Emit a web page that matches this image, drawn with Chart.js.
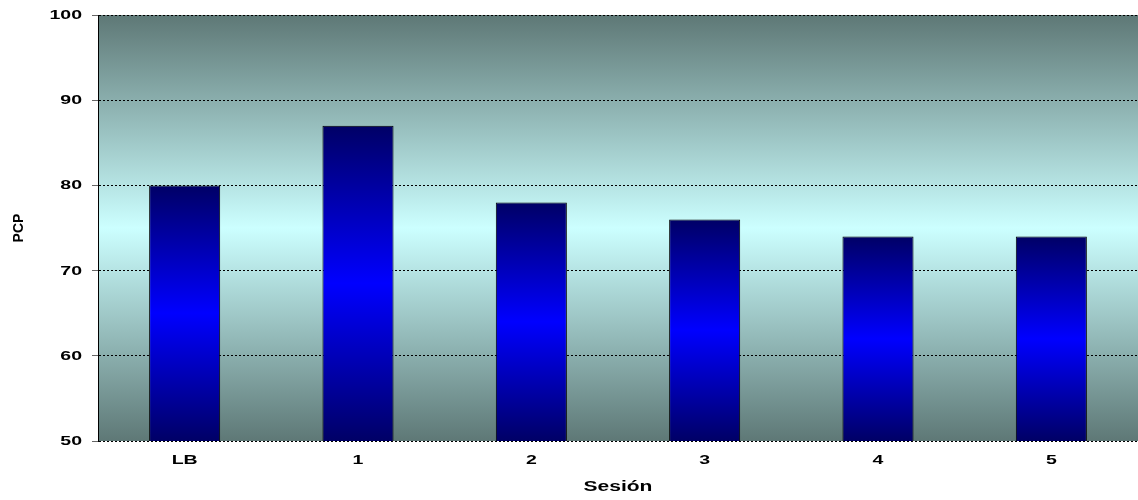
<!DOCTYPE html>
<html>
<head>
<meta charset="utf-8">
<script src="https://cdn.jsdelivr.net/npm/chart.js@4/dist/chart.umd.min.js"></script>
<style>
  html, body { margin: 0; padding: 0; background: #ffffff; }
  #wrap { width: 1138px; height: 500px; }
</style>
</head>
<body>
<div id="wrap"><canvas id="c" width="1138" height="500"></canvas></div>
<script>
const categories = ['LB', '1', '2', '3', '4', '5'];
const pcpValues = [80, 87, 78, 76, 74, 74];
const yTicks = [50, 60, 70, 80, 90, 100];
const xTitle = 'Sesión';
const yTitle = 'PCP';

const FONT = "'Liberation Sans', Arial, sans-serif";
const STRETCH = 1.5; // labels are set in a wide, horizontally stretched face

// Plot area fill: dark slate at top and bottom, pale cyan through the middle
const plotBackground = {
  id: 'plotBackground',
  beforeDraw(chart) {
    const { ctx, chartArea: a } = chart;
    const g = ctx.createLinearGradient(0, a.top, 0, a.bottom);
    g.addColorStop(0, '#5e7876');
    g.addColorStop(0.5, '#ccffff');
    g.addColorStop(1, '#5e7876');
    ctx.save();
    ctx.fillStyle = g;
    ctx.fillRect(a.left, a.top, a.right - a.left, a.bottom - a.top);
    ctx.restore();
  }
};

// Draw a string stretched horizontally around its anchor
function wideText(ctx, text, x, y, size, align) {
  ctx.save();
  ctx.translate(x, y);
  ctx.scale(STRETCH, 1);
  ctx.font = 'bold ' + size + 'px ' + FONT;
  ctx.fillStyle = '#000000';
  ctx.textAlign = align;
  ctx.textBaseline = 'middle';
  ctx.fillText(text, 0, 0);
  ctx.restore();
}

// Axis labels drawn from the scales' own ticks and pixel positions
const wideLabels = {
  id: 'wideLabels',
  afterDraw(chart) {
    const { ctx, chartArea: a, scales } = chart;
    const y = scales.y, x = scales.x;
    y.ticks.forEach(t => {
      wideText(ctx, String(t.value), a.left - 16, y.getPixelForValue(t.value) + 0.5, 13, 'right');
    });
    x.ticks.forEach(t => {
      wideText(ctx, x.getLabelForValue(t.value), x.getPixelForValue(t.value), a.bottom + 19, 13, 'center');
    });
    wideText(ctx, xTitle, (a.left + a.right) / 2, a.bottom + 46, 14, 'center');
  }
};

// Each bar: navy at both ends, bright blue in its centre
function barFill(context) {
  const chart = context.chart;
  const y = chart.scales && chart.scales.y;
  if (!y || context.raw == null) return '#0000cc';
  const top = y.getPixelForValue(context.raw);
  const bottom = y.getPixelForValue(y.min);
  if (!isFinite(top) || !isFinite(bottom) || top === bottom) return '#0000cc';
  const g = chart.ctx.createLinearGradient(0, top, 0, bottom);
  g.addColorStop(0, '#000066');
  g.addColorStop(0.5, '#0000ff');
  g.addColorStop(1, '#000066');
  return g;
}

new Chart(document.getElementById('c'), {
  type: 'bar',
  data: {
    labels: categories,
    datasets: [{
      label: yTitle,
      data: pcpValues,
      backgroundColor: barFill,
      borderColor: '#000000',
      borderWidth: 1,
      borderSkipped: false,
      categoryPercentage: 1,
      barPercentage: 0.41
    }]
  },
  plugins: [plotBackground, wideLabels],
  options: {
    responsive: false,
    animation: false,
    layout: { padding: { top: 15, right: 0, left: 0, bottom: 0 } },
    plugins: {
      legend: { display: false },
      tooltip: { enabled: false }
    },
    scales: {
      x: {
        grid: { display: false, drawTicks: false },
        border: { display: false },
        ticks: {
          color: 'rgba(0,0,0,0)',
          padding: 13,
          font: { family: FONT, size: 2 }
        },
        afterFit(scale) { scale.height = 59; }
      },
      y: {
        min: 50,
        max: 100,
        afterBuildTicks(scale) {
          scale.ticks = yTicks.map(v => ({ value: v }));
        },
        grid: {
          color: '#000000',
          lineWidth: 1,
          tickLength: 6,
          tickColor: '#666666',
          tickBorderDash: [],
          drawTicks: true
        },
        border: { display: true, color: '#000000', width: 1, dash: [2, 2] },
        ticks: {
          color: 'rgba(0,0,0,0)',
          padding: 10,
          font: { family: FONT, size: 2 }
        },
        title: {
          display: true,
          text: yTitle,
          color: '#000000',
          padding: { top: 11, bottom: 0 },
          font: { family: FONT, size: 14, weight: 'bold' }
        },
        afterFit(scale) { scale.width = 98; }
      }
    }
  }
});
</script>
</body>
</html>
